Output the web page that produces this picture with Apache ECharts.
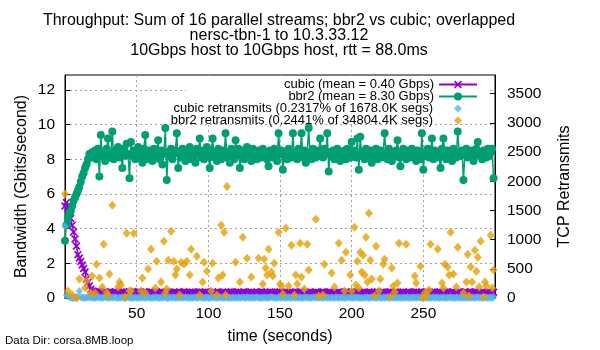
<!DOCTYPE html>
<html><head><meta charset="utf-8">
<script src="https://cdn.jsdelivr.net/npm/echarts@6/dist/echarts.min.js"></script>
<style>html,body{margin:0;padding:0;background:#fff}#c{width:600px;height:350px}</style>
</head><body><div id="c"></div>
<script>
const titleLines = ['Throughput: Sum of 16 parallel streams; bbr2 vs cubic; overlapped', 'nersc-tbn-1 to 10.3.33.12', '10Gbps host to 10Gbps host, rtt = 88.0ms'];
const seriesNames = ['cubic (mean = 0.40 Gbps)', 'bbr2 (mean = 8.30 Gbps)', 'cubic retransmits (0.2317% of 1678.0K segs)', 'bbr2 retransmits (0.2441% of 34804.4K segs)'];
const xTicks = [50, 100, 150, 200, 250];

// per-second throughput, t = 0..299 (Gbps)
const bbr2Gbps = [
3.3,4.2,4.6,4.9,5.0,5.3,5.6,5.8,6.0,6.2,6.4,6.7,7.0,7.2,7.5,7.7,8.0,8.3,8.1,8.4,
8.1,8.5,8.0,8.6,7.0,9.4,8.2,8.4,7.9,8.6,9.2,8.1,8.3,9.6,8.0,8.5,8.2,8.7,8.1,8.4,
7.5,8.6,8.2,8.9,8.3,6.9,9.0,8.2,8.5,8.0,8.4,8.7,8.1,8.3,7.8,8.6,9.4,8.2,8.0,8.5,
8.3,7.9,8.6,8.2,8.4,9.1,8.0,8.5,7.7,8.3,9.8,6.8,8.4,8.2,8.6,8.0,8.3,8.5,9.5,7.5,
8.4,8.1,8.6,8.2,7.9,8.5,8.3,8.7,8.0,8.4,8.2,7.8,8.6,8.3,9.2,8.1,8.5,8.0,8.4,8.7,
8.2,7.5,8.5,9.2,8.1,8.4,7.9,8.6,8.3,8.0,8.5,8.2,9.5,8.1,8.4,7.8,8.6,8.3,8.0,9.1,
8.3,8.6,7.5,8.2,8.5,8.0,8.4,8.7,8.1,8.3,7.9,8.6,8.2,8.4,8.0,8.5,8.3,8.1,8.6,8.2,
8.4,8.0,7.6,8.5,8.3,8.1,8.6,8.2,7.9,9.5,8.3,8.5,7.4,8.2,8.4,8.0,8.6,8.3,8.1,9.5,
8.2,8.4,8.0,8.6,8.3,9.5,8.1,8.5,7.8,8.4,9.8,8.2,8.0,8.6,8.3,8.1,8.5,8.2,9.2,8.4,
8.1,8.6,8.3,9.5,7.3,8.4,8.2,8.5,8.0,8.3,8.6,8.1,7.9,8.4,8.2,8.5,8.0,8.6,8.3,8.1,
9.0,8.3,8.5,8.1,9.2,7.4,9.3,8.2,8.4,8.0,8.6,8.3,8.1,8.5,7.8,8.4,8.2,8.6,8.0,8.3,
8.5,8.1,8.4,9.5,8.2,8.0,8.6,8.3,7.9,8.4,8.2,8.5,9.1,8.1,7.6,8.4,8.6,8.2,8.0,8.5,
8.3,8.1,8.6,8.2,8.4,7.9,8.5,8.3,8.0,9.5,7.4,8.4,8.2,8.6,8.1,8.3,9.2,8.0,8.5,8.2,
8.4,8.1,7.5,8.6,9.2,8.3,8.0,8.5,8.2,8.4,7.9,8.6,8.3,8.1,9.6,8.4,8.2,8.5,6.8,8.3,
8.6,8.1,8.4,8.2,8.5,7.9,8.3,8.6,9.0,8.2,8.4,8.0,8.5,8.3,8.1,8.6,8.2,8.4,8.6,6.9
];
const cubicGbps = [
5.3,5.5,5.2,5.0,4.6,4.2,3.8,3.4,3.0,2.5,2.3,2.1,1.9,1.7,1.5,1.1,0.9,0.7,0.5,0.4,
0.38,0.34,0.31,0.36,0.3,0.35,0.32,0.29,0.36,0.31,0.3,0.35,0.33,0.28,0.32,0.36,0.3,0.33,0.29,0.34,
0.31,0.36,0.29,0.33,0.3,0.36,0.28,0.32,0.34,0.3,0.31,0.37,0.29,0.33,0.3,0.28,0.34,0.31,0.29,0.36,
0.3,0.33,0.28,0.32,0.36,0.29,0.31,0.34,0.29,0.32,0.3,0.36,0.28,0.33,0.31,0.29,0.35,0.29,0.32,0.3,
0.34,0.29,0.31,0.36,0.29,0.32,0.28,0.33,0.3,0.35,0.29,0.31,0.33,0.29,0.36,0.28,0.32,0.3,0.34,0.29,
0.31,0.33,0.29,0.36,0.28,0.32,0.3,0.34,0.29,0.31,0.35,0.29,0.32,0.28,0.33,0.3,0.36,0.29,0.31,0.33,
0.29,0.34,0.28,0.32,0.3,0.36,0.29,0.31,0.33,0.29,0.35,0.28,0.32,0.3,0.34,0.29,0.31,0.36,0.29,0.32,
0.3,0.33,0.28,0.35,0.31,0.29,0.32,0.29,0.34,0.3,0.36,0.28,0.32,0.31,0.29,0.33,0.29,0.35,0.3,0.32,
0.29,0.34,0.31,0.29,0.36,0.28,0.32,0.3,0.33,0.29,0.31,0.35,0.29,0.32,0.28,0.34,0.3,0.31,0.29,0.33,
0.36,0.29,0.32,0.28,0.31,0.34,0.29,0.33,0.3,0.32,0.29,0.35,0.28,0.31,0.33,0.29,0.36,0.3,0.32,0.29,
0.34,0.28,0.31,0.33,0.29,0.36,0.29,0.32,0.3,0.35,0.28,0.31,0.34,0.29,0.32,0.29,0.33,0.3,0.36,0.28,
0.32,0.3,0.34,0.29,0.31,0.33,0.29,0.36,0.28,0.32,0.3,0.35,0.29,0.31,0.33,0.29,0.34,0.28,0.32,0.3,
0.36,0.29,0.31,0.33,0.29,0.35,0.28,0.32,0.3,0.34,0.29,0.31,0.36,0.29,0.32,0.28,0.33,0.3,0.34,0.29,
0.31,0.35,0.29,0.32,0.28,0.33,0.3,0.36,0.29,0.31,0.34,0.29,0.32,0.28,0.33,0.3,0.35,0.29,0.31,0.36,
0.29,0.32,0.28,0.34,0.3,0.31,0.36,0.29,0.33,0.3,0.32,0.29,0.35,0.28,0.31,0.34,0.29,0.32,0.3,0.33
];
// per-second cubic retransmits, t = 0..299
const cubicRetrans = [
1230,45,30,20,10,5,0,8,15,12,120,18,6,10,0,14,8,20,5,12,
6,0,10,15,4,8,0,12,20,5,9,0,14,7,3,18,6,0,10,4,
12,5,0,8,16,3,10,0,6,14,2,9,0,11,5,17,0,7,13,4,
0,10,6,15,3,8,0,12,5,9,18,2,0,7,11,4,14,0,6,10,
3,16,0,8,12,5,9,0,14,2,7,11,0,6,15,4,10,0,8,13,
5,0,9,17,3,11,0,6,12,4,8,0,15,7,2,10,0,13,5,9,
0,14,6,3,11,8,0,16,4,9,2,12,0,7,15,5,0,10,6,13,
4,8,0,11,17,3,9,0,6,14,5,0,12,8,2,10,16,0,7,4,
11,0,9,5,13,2,0,15,8,4,10,0,6,12,3,17,0,9,5,11,
0,7,14,4,10,0,12,6,2,16,8,0,11,5,9,3,0,13,7,10,
4,0,15,8,12,2,9,0,6,14,5,11,0,7,17,3,10,0,8,12,
6,0,13,4,9,16,0,7,11,2,10,0,14,5,8,0,12,6,3,15,
0,9,5,12,7,0,16,3,10,8,0,13,6,4,11,0,9,15,2,7,
12,0,8,5,14,3,0,10,6,17,4,9,0,11,7,2,13,0,8,5,
10,0,14,6,3,12,0,8,16,5,9,0,11,4,13,0,7,10,2,15
];
// bbr2 retransmits (seconds with a plotted point, and the count)
const bbr2RetransT = [0,2,5,8,10,14,15,18,19,21,22,24,26,27,29,30,31,33,37,38,39,42,43,45,46,48,53,54,56,58,60,63,64,67,69,70,71,72,74,76,77,78,80,81,83,85,87,88,92,94,96,97,99,102,103,106,107,109,110,111,112,113,119,122,124,127,130,135,138,139,140,141,142,144,145,146,149,150,151,152,154,156,158,160,161,162,164,165,167,169,170,175,177,180,181,186,188,191,193,195,196,199,200,202,203,204,205,206,207,208,209,210,211,212,213,214,216,217,219,220,222,223,227,228,229,230,232,233,238,244,245,248,250,251,252,254,255,260,263,264,265,267,268,269,271,273,274,278,280,281,282,283,284,286,287,288,289,290,292,293,294,297,298,299];
const bbr2RetransV = [1780,119,51,0,324,170,290,85,375,85,580,341,188,921,100,51,409,1590,188,273,222,17,1109,119,119,1109,119,341,85,495,836,170,631,273,972,85,153,648,1143,631,392,495,51,614,580,631,392,836,716,51,273,614,460,119,597,51,341,1245,392,1126,51,1910,614,273,1040,682,358,682,239,665,512,392,836,444,375,597,1126,239,205,68,1194,205,904,51,392,239,938,358,153,921,478,1348,34,51,580,427,188,938,648,119,785,392,119,1211,222,631,170,785,444,733,392,1040,273,1450,648,324,34,887,119,324,580,665,17,512,205,102,256,938,921,375,256,546,0,85,51,136,921,836,256,170,580,529,392,1126,409,188,870,85,273,750,34,529,273,819,460,699,188,972,17,273,205,1075,170,478];

const colors = ['#9400d3', '#009e73', '#56b4e9', '#e69f00'];
const FONT = 'Liberation Sans, Arial, sans-serif';
const xSym = 'path://M0,1.5L1.5,0L5,3.5L8.5,0L10,1.5L6.5,5L10,8.5L8.5,10L5,6.5L1.5,10L0,8.5L3.5,5Z';

const cubicData = cubicGbps.map((v, i) => [i, v]);
const bbr2Data = bbr2Gbps.map((v, i) => [i, v]);
const cubicRetransData = cubicRetrans.map((v, i) => [i, v]);
const bbr2RetransData = bbr2RetransT.map((t, i) => [t, bbr2RetransV[i]]);

const dash = {color: '#a0a0a0', width: 1, type: [2, 3]};
const legendBase = {orient: 'horizontal', align: 'right', selectedMode: false, itemHeight: 10,
  textStyle: {fontFamily: FONT, fontSize: 13, color: '#000'}, padding: 0};

const titleGraphics = titleLines.map((t, i) => ({type: 'text', x: 279, y: 21 + i * 15, silent: true,
  style: {text: t, fontFamily: FONT, fontSize: 16, fill: '#000', align: 'center', verticalAlign: 'middle'}}));

const option = {
  animation: false,
  backgroundColor: '#fff',
  textStyle: {fontFamily: FONT},
  grid: {left: 65, right: 105, top: 75, bottom: 50, show: true, borderColor: '#000', borderWidth: 1, backgroundColor: 'transparent'},
  legend: [
    Object.assign({}, legendBase, {data: [seriesNames[0]], right: 122, top: 78, itemWidth: 38}),
    Object.assign({}, legendBase, {data: [seriesNames[1]], right: 122, top: 90, itemWidth: 38}),
    Object.assign({}, legendBase, {data: [seriesNames[2]], right: 138, top: 102, itemWidth: 8, itemHeight: 8,
      textStyle: {fontFamily: FONT, fontSize: 13, color: '#000', padding: [0, 16, 0, 0]}}),
    Object.assign({}, legendBase, {data: [seriesNames[3]], right: 138, top: 114, itemWidth: 8, itemHeight: 8,
      textStyle: {fontFamily: FONT, fontSize: 13, color: '#000', padding: [0, 16, 0, 0]}})
  ],
  xAxis: {type: 'value', min: 0, max: 300, interval: 50,
    name: 'time (seconds)', nameLocation: 'middle', nameGap: 31,
    nameTextStyle: {fontFamily: FONT, fontSize: 16, color: '#000'},
    axisLine: {lineStyle: {color: '#000', width: 1}},
    axisTick: {inside: true, length: 5, lineStyle: {color: '#000'}},
    axisLabel: {showMinLabel: false, showMaxLabel: false, fontFamily: FONT, fontSize: 15.5, color: '#000', margin: 8,
      formatter: v => xTicks.indexOf(v) >= 0 ? String(v) : ''},
    splitLine: {show: true, showMinLine: false, showMaxLine: false, lineStyle: dash}},
  yAxis: [
    {type: 'value', min: 0, max: 12.857, interval: 2, position: 'left',
      name: 'Bandwidth (Gbits/second)', nameLocation: 'middle', nameGap: 35, nameMoveOverlap: false,
      nameTextStyle: {fontFamily: FONT, fontSize: 16, color: '#000'},
      axisLine: {show: true, lineStyle: {color: '#000'}},
      axisTick: {show: true, inside: true, length: 5, lineStyle: {color: '#000'}},
      axisLabel: {showMaxLabel: false, fontFamily: FONT, fontSize: 15.5, color: '#000', margin: 10,
        formatter: v => String(v)},
      splitLine: {show: true, showMinLine: false, showMaxLine: false, lineStyle: dash}},
    {type: 'value', min: 0, max: 3820, interval: 500, position: 'right',
      name: 'TCP Retransmits', nameLocation: 'middle', nameGap: 62,
      nameTextStyle: {fontFamily: FONT, fontSize: 16, color: '#000'},
      axisLine: {show: true, lineStyle: {color: '#000'}},
      axisTick: {show: true, inside: true, length: 5, lineStyle: {color: '#000'}},
      axisLabel: {showMaxLabel: false, fontFamily: FONT, fontSize: 15.5, color: '#000', margin: 12,
        formatter: v => String(v)},
      splitLine: {show: false}}
  ],
  graphic: titleGraphics.concat([
    {type: 'rect', z: 1, silent: true, shape: {x: 186, y: 76, width: 302, height: 48}, style: {fill: '#fff'}},
    {type: 'text', left: 5, top: 335, silent: true,
      style: {text: 'Data Dir: corsa.8MB.loop', fontFamily: FONT, fontSize: 11.5, fill: '#000'}}
  ]),
  series: [
    {name: seriesNames[0], type: 'line', data: cubicData, yAxisIndex: 0, showAllSymbol: true,
      symbol: xSym, symbolSize: 8, color: colors[0], lineStyle: {color: colors[0], width: 1.5},
      itemStyle: {color: colors[0]}, emphasis: {disabled: true}, z: 3},
    {name: seriesNames[1], type: 'line', data: bbr2Data, yAxisIndex: 0, showAllSymbol: true,
      symbol: 'circle', symbolSize: 8, color: colors[1], lineStyle: {color: colors[1], width: 1.5},
      itemStyle: {color: colors[1]}, emphasis: {disabled: true}, z: 4},
    {name: seriesNames[2], type: 'scatter', data: cubicRetransData, yAxisIndex: 1,
      symbol: 'diamond', symbolSize: [7, 8], color: colors[2], itemStyle: {color: colors[2]}, emphasis: {disabled: true}, z: 5},
    {name: seriesNames[3], type: 'scatter', data: bbr2RetransData, yAxisIndex: 1,
      symbol: 'diamond', symbolSize: [8, 9], color: colors[3], itemStyle: {color: colors[3]}, emphasis: {disabled: true}, z: 6}
  ]
};
const chart = echarts.init(document.getElementById('c'));
chart.setOption(option);
</script></body></html>
